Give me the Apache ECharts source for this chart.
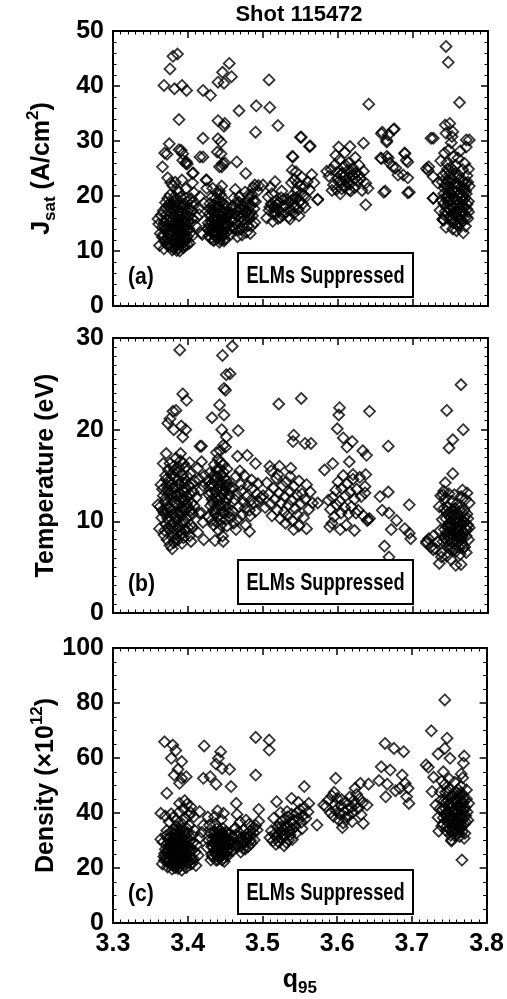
<!DOCTYPE html>
<html>
<head>
<meta charset="utf-8">
<script src="https://cdn.jsdelivr.net/npm/echarts@6/dist/echarts.min.js"></script>
<style>html,body{margin:0;padding:0;background:#fff}#main{width:507px;height:999px}</style>
</head>
<body>
<div id="main"></div>
<script>
// Shot 115472 : probe Jsat, Te and ne against q95
var shotTitle = 'Shot 115472';
var panelTags = ['(a)', '(b)', '(c)'];
var boxLabel = 'ELMs Suppressed';
var yMax = [50, 30, 100];
var yStep = [10, 10, 20];
var yMinorSplit = [5, 10, 4];

// (a) Jsat (A/cm2)
var jsatPoints = [
  [3.386,45.8],[3.380,45.4],[3.376,43.1],[3.368,40.1],[3.382,39.5],[3.392,40.1],[3.398,39.2],[3.388,33.9],
  [3.375,29.5],[3.372,27.6],[3.366,25.3],[3.391,28.3],[3.393,27.7],[3.398,26.2],[3.397,25.9],[3.416,27.1],
  [3.406,24.1],[3.420,39.2],[3.430,38.3],[3.420,30.5],[3.440,40.7],[3.446,42.5],[3.455,44.1],[3.458,41.7],
  [3.448,40.5],[3.440,33.7],[3.448,32.7],[3.449,33.2],[3.440,30.4],[3.444,29.8],[3.444,27.7],[3.446,25.9],
  [3.442,25.3],[3.465,26.2],[3.468,35.5],[3.477,24.1],[3.491,36.4],[3.490,31.6],[3.508,41.1],[3.509,36.1],
  [3.520,32.8],[3.516,22.6],[3.500,22.0],[3.550,30.7],[3.562,29.0],[3.539,27.2],[3.539,24.7],[3.573,19.4],
  [3.641,36.7],[3.601,28.9],[3.616,29.0],[3.634,29.6],[3.637,18.4],[3.658,31.3],[3.674,32.1],[3.665,30.1],
  [3.665,27.2],[3.658,26.8],[3.663,20.9],[3.689,27.7],[3.691,26.5],[3.693,20.6],[3.724,30.5],[3.718,25.0],
  [3.744,47.2],[3.747,44.3],[3.762,37.0],[3.727,19.6],[3.740,15.7],
  [3.373,23.3],[3.377,22.4],[3.369,27.8],[3.388,28.4],[3.393,26.5],[3.399,25.8],[3.407,24.2],[3.420,27.1],
  [3.425,22.9],[3.439,28.0],[3.449,26.0],[3.445,25.3],[3.489,22.0],
  [3.368,10.4],[3.372,11.2],[3.366,12.5],[3.370,13.8],[3.374,14.6],[3.368,15.3],[3.377,10.9],[3.380,12.0],
  [3.383,13.1],[3.376,14.0],[3.379,15.5],[3.382,16.4],[3.385,10.1],[3.388,11.5],[3.391,12.7],[3.386,13.9],
  [3.389,14.8],[3.392,15.9],[3.387,17.1],[3.384,18.3],[3.394,10.6],[3.397,11.9],[3.395,13.4],[3.398,14.3],
  [3.393,16.8],[3.396,17.6],[3.399,18.9],[3.390,19.8],[3.381,19.2],[3.375,17.9],[3.371,16.6],[3.373,12.3],
  [3.378,11.6],[3.382,14.4],[3.386,15.2],[3.390,13.0],[3.394,12.2],[3.400,13.7],[3.403,15.0],[3.401,16.3],
  [3.405,17.4],[3.402,11.4],[3.406,12.8],[3.404,19.5],[3.408,20.6],[3.397,21.3],[3.388,20.7],[3.380,21.8],
  [3.376,20.2],[3.370,18.8],[3.367,17.3],[3.383,22.5],[3.392,22.9],[3.379,13.5],[3.384,12.6],[3.388,16.2],
  [3.391,17.9],[3.396,15.4],[3.385,14.1],[3.377,16.0],[3.374,13.1],[3.369,11.7],[3.381,10.5],[3.389,10.0],
  [3.395,11.0],[3.399,12.6],[3.410,14.6],[3.412,16.1],[3.407,18.2],[3.373,19.6],[3.366,14.3],[3.378,18.5],
  [3.393,14.0],[3.387,12.3],[3.383,17.6],[3.398,16.7],[3.401,14.1],[3.375,15.1],[3.386,19.0],[3.390,11.1],
  [3.361,14.9],[3.363,13.2],[3.362,11.0],[3.360,15.8],[3.364,16.5],[3.406,18.8],[3.416,19.9],[3.421,18.7],
  [3.415,16.6],[3.418,13.3],[3.419,13.0],[3.406,22.4],[3.424,22.9],[3.425,21.4],[3.415,17.8],
  [3.371,12.0],[3.374,11.0],[3.377,13.2],[3.380,14.9],[3.383,11.3],[3.386,12.1],[3.389,13.5],[3.392,14.3],
  [3.395,16.2],[3.398,12.1],[3.378,16.9],[3.381,17.8],[3.385,16.6],[3.389,18.4],[3.393,18.6],[3.397,19.6],
  [3.401,17.6],[3.376,12.8],[3.372,15.6],[3.369,14.4],[3.384,14.7],[3.387,15.8],[3.390,15.0],[3.394,13.0],
  [3.379,10.2],[3.383,10.8],[3.387,10.6],[3.392,11.8],[3.396,12.9],[3.400,15.4],[3.403,13.3],[3.406,15.9],
  [3.382,19.9],[3.386,21.1],[3.375,18.6],[3.371,17.9],[3.367,13.0],[3.391,16.9],[3.399,11.2],[3.395,18.2],
  [3.428,12.8],[3.431,13.9],[3.427,15.1],[3.430,16.3],[3.433,17.5],[3.429,18.6],[3.432,19.8],[3.435,12.0],
  [3.438,13.2],[3.436,14.5],[3.439,15.7],[3.434,16.9],[3.437,18.1],[3.440,19.2],[3.442,11.6],[3.445,12.7],
  [3.443,13.8],[3.441,15.0],[3.446,16.2],[3.444,17.4],[3.447,18.5],[3.443,20.3],[3.449,12.2],[3.452,13.4],
  [3.450,14.6],[3.448,15.8],[3.453,17.0],[3.451,18.2],[3.455,14.1],[3.454,16.4],[3.438,20.6],[3.433,21.4],
  [3.445,21.8],[3.426,14.0],[3.429,16.8],[3.434,11.9],[3.440,12.4],[3.436,17.1],[3.442,14.3],[3.447,13.0],
  [3.439,16.0],[3.431,15.4],[3.444,19.0],[3.450,17.6],[3.437,12.6],[3.441,18.0],[3.448,11.8],[3.435,15.9],
  [3.446,14.7],[3.432,13.3],
  [3.430,12.3],[3.433,14.6],[3.436,13.5],[3.439,14.1],[3.441,16.6],[3.444,15.6],[3.447,17.1],[3.450,15.2],
  [3.437,16.4],[3.434,18.4],[3.430,17.6],[3.443,12.1],[3.446,13.5],[3.449,14.0],[3.452,16.2],[3.440,17.8],
  [3.437,19.6],[3.445,19.8],[3.441,13.1],[3.435,12.9],[3.448,16.9],[3.452,14.9],[3.428,14.6],[3.442,20.9],
  [3.433,15.7],
  [3.457,13.0],[3.460,14.2],[3.458,15.5],[3.462,16.8],[3.459,17.9],[3.464,18.8],[3.461,19.6],[3.466,12.6],
  [3.468,13.8],[3.465,15.0],[3.470,16.1],[3.467,17.3],[3.471,18.4],[3.469,19.9],[3.473,14.5],[3.475,15.7],
  [3.472,12.9],[3.477,16.9],[3.474,18.0],[3.478,13.4],[3.480,14.6],[3.482,15.8],[3.479,17.2],[3.484,18.3],
  [3.481,19.5],[3.486,16.4],[3.488,17.7],[3.485,20.3],[3.490,19.0],[3.492,20.8],[3.487,21.5],[3.494,21.9],
  [3.463,21.2],[3.476,20.7],[3.483,13.2],[3.489,15.2],[3.471,14.0],[3.460,18.2],
  [3.463,14.0],[3.466,16.4],[3.469,17.7],[3.472,15.3],[3.475,17.4],[3.478,18.8],[3.481,16.5],[3.484,17.0],
  [3.487,19.1],[3.462,15.9],[3.468,18.9],[3.474,16.6],[3.480,20.1],[3.458,16.9],[3.486,14.7],
  [3.505,16.0],[3.508,17.4],[3.511,18.6],[3.507,19.8],[3.513,15.4],[3.516,16.7],[3.514,18.0],[3.518,19.2],
  [3.512,20.4],[3.520,15.9],[3.522,17.3],[3.519,18.5],[3.524,19.7],[3.526,16.5],[3.528,18.1],[3.525,20.9],
  [3.530,17.0],[3.532,19.4],[3.510,21.6],[3.517,17.9],
  [3.515,17.3],[3.521,18.8],[3.527,19.3],[3.509,18.0],[3.523,16.1],[3.541,18.0],[3.545,19.7],[3.550,21.8],
  [3.538,19.2],[3.554,20.0],
  [3.534,16.2],[3.537,17.5],[3.535,18.8],[3.539,20.1],[3.541,16.8],[3.543,18.2],[3.540,19.4],[3.545,21.0],
  [3.547,17.6],[3.549,19.0],[3.546,22.3],[3.551,20.4],[3.553,18.6],[3.555,21.7],[3.552,23.4],[3.557,19.8],
  [3.559,22.6],[3.562,21.1],[3.565,23.9],[3.568,22.4],[3.538,22.4],[3.544,24.4],[3.536,15.8],[3.548,16.4],
  [3.556,17.9],[3.542,23.0],
  [3.588,23.6],[3.591,24.8],[3.594,22.0],[3.596,25.7],[3.598,21.2],[3.600,23.3],[3.602,26.6],[3.603,20.4],
  [3.605,22.5],[3.606,24.1],[3.608,25.3],[3.610,21.7],[3.611,23.0],[3.613,24.6],[3.614,26.0],[3.616,22.2],
  [3.617,20.9],[3.619,23.8],[3.620,25.1],[3.622,21.5],[3.624,24.2],[3.626,22.7],[3.628,25.6],[3.630,23.1],
  [3.632,21.0],[3.634,24.5],[3.637,22.3],[3.640,21.4],[3.597,27.4],[3.609,27.9],[3.585,24.5],[3.592,21.0],
  [3.623,27.0],[3.604,23.9],[3.615,23.4],
  [3.601,22.6],[3.607,23.4],[3.612,22.4],[3.618,24.4],[3.623,23.2],[3.599,24.3],[3.610,25.6],[3.605,21.3],
  [3.615,21.1],[3.628,23.8],
  [3.659,31.6],[3.667,31.1],[3.675,32.2],[3.665,29.8],[3.657,26.9],[3.667,26.9],[3.669,26.0],[3.677,25.1],
  [3.689,27.8],[3.693,26.2],[3.687,23.8],[3.693,23.3],[3.695,20.7],[3.661,20.7],[3.680,23.8],[3.673,25.3],
  [3.551,30.7],[3.563,29.1],[3.540,27.1],[3.573,19.3],
  [3.727,30.5],[3.743,32.9],[3.749,33.2],[3.753,31.7],[3.771,30.2],[3.721,25.3],[3.720,24.7],[3.727,23.5],
  [3.733,22.4],[3.727,19.6],[3.741,15.6],[3.753,14.0],[3.767,13.3],
  [3.740,15.8],[3.743,17.2],[3.741,18.6],[3.745,20.0],[3.742,21.4],[3.746,22.8],[3.744,24.1],[3.748,16.1],
  [3.750,17.5],[3.747,18.9],[3.751,20.3],[3.749,21.7],[3.752,23.1],[3.750,25.2],[3.754,15.2],[3.756,16.6],
  [3.753,18.0],[3.757,19.4],[3.755,20.8],[3.758,22.2],[3.756,23.6],[3.760,14.6],[3.762,16.0],[3.759,17.4],
  [3.763,18.8],[3.761,20.2],[3.764,21.6],[3.762,23.0],[3.766,15.4],[3.768,16.8],[3.765,18.2],[3.769,19.6],
  [3.767,21.0],[3.770,22.4],[3.772,17.6],[3.774,19.0],[3.771,20.4],[3.773,15.9],[3.775,21.8],[3.738,19.3],
  [3.739,22.6],[3.737,26.4],[3.742,27.8],[3.745,26.0],[3.748,28.4],[3.751,29.7],[3.754,27.1],[3.757,25.6],
  [3.760,26.9],[3.763,28.2],[3.766,24.8],[3.769,25.9],[3.772,23.7],[3.774,24.9],[3.736,17.4],[3.744,14.3],
  [3.758,13.7],[3.770,14.5],[3.747,19.9],[3.753,21.2],[3.759,19.0],[3.765,17.0],[3.755,17.8],[3.761,22.0],
  [3.749,24.0],[3.767,20.1],[3.763,14.9],[3.740,23.8],[3.771,28.9],[3.775,30.2],[3.752,30.8],[3.744,31.4],
  [3.742,16.5],[3.745,17.9],[3.748,19.3],[3.751,18.1],[3.754,19.8],[3.757,17.1],[3.760,18.4],[3.763,20.5],
  [3.766,19.1],[3.769,17.9],[3.772,18.5],[3.744,19.6],[3.747,21.0],[3.750,22.4],[3.753,16.7],[3.756,15.5],
  [3.759,16.2],[3.762,17.7],[3.765,19.9],[3.768,21.5],[3.771,16.2],[3.774,17.1],[3.743,22.0],[3.749,20.7],
  [3.755,22.3],[3.761,23.8],[3.767,22.6],[3.752,15.8],[3.758,14.9],[3.764,15.7],[3.746,24.9],[3.754,24.6],
  [3.770,20.9],[3.773,22.5],[3.741,20.4]
];

// (b) Te (eV)
var tempPoints = [
  [3.389,28.7],[3.446,28.1],[3.459,29.1],[3.451,26.0],[3.456,26.1],[3.448,24.5],[3.450,24.3],[3.393,23.9],
  [3.398,23.2],[3.384,22.1],[3.380,22.0],[3.376,21.2],[3.373,20.7],[3.381,20.0],[3.391,20.4],[3.397,20.0],
  [3.393,19.2],[3.390,17.4],[3.371,17.4],[3.367,16.3],[3.418,18.2],[3.432,21.3],[3.442,22.7],[3.448,21.6],
  [3.445,20.0],[3.451,19.2],[3.447,18.3],[3.450,18.1],[3.467,19.9],[3.466,17.1],[3.479,17.2],[3.490,16.3],
  [3.521,22.8],[3.551,23.4],[3.541,19.4],[3.540,18.7],[3.556,18.5],[3.564,18.5],[3.602,22.4],[3.601,21.6],
  [3.642,22.0],[3.599,20.1],[3.607,19.1],[3.612,18.1],[3.619,18.7],[3.615,16.5],[3.633,17.7],[3.638,17.2],
  [3.667,18.2],[3.656,12.7],[3.667,13.2],[3.659,11.2],[3.668,10.9],[3.678,10.1],[3.671,9.1],[3.662,7.3],
  [3.668,6.1],[3.695,11.8],[3.689,9.2],[3.695,8.7],[3.697,8.1],[3.620,15.1],[3.637,15.1],[3.636,13.8],
  [3.640,10.2],[3.622,9.0],[3.603,9.1],[3.589,9.4],[3.587,12.3],[3.582,15.6],[3.593,16.3],[3.573,12.0],
  [3.558,9.2],[3.541,9.1],[3.522,16.0],[3.509,16.0],[3.536,14.9],[3.482,8.9],[3.464,9.1],[3.421,8.0],
  [3.418,10.9],[3.415,10.9],[3.420,9.9],[3.416,18.2],
  [3.764,24.9],[3.745,22.1],[3.767,20.0],[3.753,18.9],[3.748,18.0],[3.753,15.2],[3.743,14.2],[3.740,12.9],
  [3.772,13.1],[3.718,7.8],[3.727,6.9],[3.735,5.4],[3.764,5.3],[3.738,6.1],
  [3.362,9.2],[3.365,10.4],[3.363,11.6],[3.367,12.8],[3.364,14.0],[3.368,8.5],[3.370,9.7],[3.372,10.9],
  [3.369,12.1],[3.373,13.3],[3.371,14.6],[3.374,15.6],[3.376,7.4],[3.378,8.8],[3.375,10.0],[3.379,11.2],
  [3.377,12.4],[3.380,13.6],[3.382,14.8],[3.381,16.0],[3.384,8.1],[3.386,9.3],[3.383,10.5],[3.387,11.7],
  [3.385,12.9],[3.388,14.1],[3.386,15.4],[3.390,16.6],[3.391,8.6],[3.393,9.8],[3.389,11.0],[3.394,12.2],
  [3.392,13.4],[3.395,14.6],[3.397,15.9],[3.396,9.1],[3.398,10.3],[3.400,11.5],[3.399,12.7],[3.401,13.9],
  [3.403,15.2],[3.402,8.4],[3.404,9.6],[3.406,10.8],[3.405,12.0],[3.407,13.2],[3.409,14.4],[3.366,13.5],
  [3.378,15.1],[3.383,11.9],[3.389,13.0],[3.374,11.4],[3.391,10.6],[3.380,9.9],[3.387,8.0],[3.395,11.3],
  [3.372,8.0],[3.398,13.6],[3.384,16.9],[3.381,7.7],[3.377,14.0],[3.386,10.2],[3.393,12.6],[3.370,12.5],
  [3.400,9.3],[3.408,11.7],[3.411,12.6],[3.388,9.5],[3.375,13.0],[3.382,12.1],[3.396,14.2],[3.402,16.4],
  [3.360,11.8],[3.379,7.0],[3.392,7.6],[3.404,7.8],[3.413,8.8],[3.415,14.6],[3.417,13.4],[3.413,15.8],
  [3.420,13.9],[3.422,15.0],[3.418,16.5],
  [3.368,10.9],[3.371,11.3],[3.374,9.2],[3.377,9.5],[3.380,10.7],[3.383,9.1],[3.386,11.0],[3.389,12.2],
  [3.392,11.4],[3.395,10.1],[3.398,11.9],[3.401,10.6],[3.404,11.2],[3.372,13.9],[3.375,14.5],[3.378,12.9],
  [3.381,13.1],[3.384,13.7],[3.387,14.5],[3.390,14.0],[3.393,15.1],[3.396,13.2],[3.399,14.9],[3.402,13.0],
  [3.405,14.0],[3.366,11.2],[3.369,9.0],[3.385,8.6],[3.390,9.0],[3.394,8.2],[3.398,8.9],[3.382,15.6],
  [3.388,15.9],[3.394,16.3],[3.376,16.3],[3.370,15.0],[3.406,9.3],[3.379,8.3],[3.373,10.3],[3.397,12.4],
  [3.427,10.5],[3.430,11.7],[3.428,12.9],[3.432,14.1],[3.429,15.3],[3.434,9.6],[3.436,10.8],[3.433,12.0],
  [3.437,13.2],[3.435,14.4],[3.438,15.6],[3.440,16.8],[3.441,9.0],[3.443,10.2],[3.439,11.4],[3.444,12.6],
  [3.442,13.8],[3.445,15.0],[3.447,16.2],[3.446,8.4],[3.448,10.9],[3.450,12.1],[3.449,13.3],[3.451,14.5],
  [3.453,11.5],[3.452,15.7],[3.455,12.8],[3.454,14.0],[3.457,10.4],[3.456,13.6],[3.431,13.1],[3.437,11.2],
  [3.444,14.2],[3.440,12.3],[3.448,13.9],[3.434,15.0],[3.446,11.0],[3.436,7.9],[3.447,7.8],[3.426,14.4],
  [3.452,9.5],[3.438,17.5],[3.443,17.7],
  [3.431,10.1],[3.434,11.2],[3.437,12.6],[3.440,13.6],[3.443,11.7],[3.446,12.9],[3.449,11.6],[3.452,12.5],
  [3.433,13.8],[3.436,14.9],[3.439,14.8],[3.442,15.7],[3.445,13.4],[3.448,14.7],[3.451,13.9],[3.441,10.6],
  [3.444,9.6],[3.438,9.9],[3.454,11.0],[3.429,13.9],[3.435,16.2],[3.447,15.4],[3.450,10.2],[3.432,12.4],
  [3.443,16.4],
  [3.459,11.1],[3.462,12.4],[3.460,13.7],[3.464,14.9],[3.466,10.2],[3.468,11.6],[3.465,12.9],[3.470,14.0],
  [3.472,10.7],[3.474,12.1],[3.471,13.3],[3.476,11.4],[3.478,12.7],[3.480,13.9],[3.477,9.6],[3.482,11.2],
  [3.484,12.3],[3.486,13.6],[3.483,10.6],[3.488,12.0],[3.490,11.1],[3.492,13.0],[3.494,12.2],[3.469,15.5],
  [3.475,15.0],[3.461,9.8],[3.485,14.5],[3.493,14.1],[3.497,12.6],
  [3.500,12.8],[3.503,11.5],[3.505,14.2],[3.508,13.0],[3.510,11.9],[3.512,10.6],[3.514,13.6],[3.516,12.4],
  [3.518,14.7],[3.519,11.2],[3.521,13.1],[3.523,10.3],[3.524,12.0],[3.526,13.9],[3.528,11.0],[3.529,12.7],
  [3.531,14.3],[3.533,10.6],[3.534,11.8],[3.536,13.2],[3.538,12.3],[3.539,10.1],[3.541,13.8],[3.543,11.4],
  [3.545,12.9],[3.546,10.7],[3.548,14.4],[3.550,11.9],[3.552,13.0],[3.554,10.4],[3.556,12.4],[3.558,14.0],
  [3.561,11.3],[3.563,13.2],[3.530,9.8],[3.520,15.1],[3.537,15.8],[3.511,15.5],[3.548,9.5],[3.566,12.0],
  [3.590,11.3],[3.593,12.6],[3.595,10.5],[3.597,13.4],[3.598,11.8],[3.600,14.3],[3.602,12.2],[3.604,10.9],
  [3.605,13.6],[3.607,15.0],[3.609,11.5],[3.610,12.8],[3.612,14.1],[3.614,10.8],[3.616,13.2],[3.618,11.6],
  [3.620,14.6],[3.622,12.4],[3.625,13.5],[3.627,11.2],[3.629,14.8],[3.631,12.7],[3.634,10.6],[3.636,13.1],
  [3.639,10.1],[3.642,10.3],[3.592,9.8],[3.611,9.6],[3.624,10.9],
  [3.718,7.6],[3.721,8.1],[3.724,7.2],[3.727,8.4],[3.730,7.0],[3.733,7.8],[3.736,9.0],[3.739,10.2],
  [3.741,11.4],[3.743,12.5],[3.738,6.6],[3.740,7.8],[3.742,9.1],[3.744,10.3],[3.746,11.6],[3.745,6.2],
  [3.747,7.4],[3.749,8.6],[3.748,9.8],[3.750,11.0],[3.752,12.2],[3.751,5.8],[3.753,7.1],[3.755,8.3],
  [3.754,9.5],[3.756,10.7],[3.758,11.9],[3.757,6.7],[3.759,7.9],[3.761,9.1],[3.760,10.3],[3.762,11.5],
  [3.764,12.7],[3.763,6.4],[3.765,7.6],[3.767,8.8],[3.766,10.0],[3.768,11.2],[3.770,12.4],[3.769,7.2],
  [3.771,8.4],[3.773,9.6],[3.772,10.8],[3.774,8.0],[3.775,9.3],[3.744,8.7],[3.750,9.4],[3.756,8.9],
  [3.762,8.5],[3.746,10.8],[3.752,7.7],[3.758,10.0],[3.764,9.7],[3.741,13.3],[3.748,13.0],[3.755,12.9],
  [3.735,11.6],[3.737,12.8],[3.766,13.4],[3.775,12.0],[3.757,5.2],[3.771,6.6],
  [3.745,7.9],[3.748,8.1],[3.751,9.0],[3.754,10.1],[3.757,9.3],[3.760,8.2],[3.763,9.4],[3.766,8.3],
  [3.769,9.9],[3.772,9.1],[3.747,9.3],[3.750,10.4],[3.753,11.3],[3.756,11.4],[3.759,10.9],[3.762,10.0],
  [3.765,11.0],[3.768,10.4],[3.744,11.1],[3.742,8.2],[3.749,7.0],[3.755,6.9],[3.761,7.2],[3.767,7.1],
  [3.773,10.3],[3.752,10.7],[3.758,8.6],[3.764,8.1],[3.770,9.2],[3.746,9.4]
];

// (c) density (x10^12)
var densPoints = [
  [3.744,81.1],[3.726,69.9],[3.747,67.2],[3.735,61.5],[3.744,63.5],[3.751,59.9],[3.719,57.5],[3.722,56.6],
  [3.770,60.7],[3.769,58.1],[3.766,54.2],[3.729,53.0],[3.727,47.8],[3.732,42.9],[3.753,30.2],[3.767,22.9],
  [3.771,32.6],
  [3.664,65.3],[3.676,63.5],[3.689,62.3],[3.659,56.8],[3.671,55.6],[3.656,51.8],[3.667,50.5],[3.665,45.9],
  [3.678,48.1],[3.687,53.8],[3.691,50.8],[3.695,49.0],[3.696,43.5],[3.693,45.9],[3.684,49.0],[3.598,52.6],
  [3.631,50.8],[3.642,50.5],[3.624,49.0],[3.640,42.9],[3.635,36.2],[3.582,42.9],[3.573,35.6],[3.556,49.6],
  [3.562,43.5],[3.539,45.3],[3.519,44.1],[3.524,40.1],[3.509,66.5],[3.509,62.9],[3.491,67.5],[3.491,53.8],
  [3.495,41.3],[3.540,30.4],[3.422,64.4],[3.421,52.6],[3.430,53.2],[3.444,62.3],[3.441,59.9],[3.438,57.8],
  [3.438,50.5],[3.446,56.2],[3.456,55.9],[3.458,49.6],[3.465,43.5],[3.369,65.9],[3.380,64.7],[3.384,62.7],
  [3.378,59.9],[3.392,58.7],[3.387,55.9],[3.382,53.8],[3.392,52.6],[3.389,50.8],[3.398,53.2],[3.372,47.2],
  [3.364,39.9],[3.416,40.5],[3.404,40.1],[3.396,44.5],[3.389,43.5],[3.406,21.7],
  [3.366,21.5],[3.368,24.2],[3.370,26.8],[3.367,29.4],[3.371,31.7],[3.369,22.8],[3.373,20.4],[3.375,23.1],
  [3.372,25.6],[3.376,28.2],[3.374,30.5],[3.377,33.0],[3.379,19.6],[3.381,22.3],[3.378,24.9],[3.382,27.5],
  [3.380,30.0],[3.383,32.4],[3.385,35.1],[3.386,20.8],[3.388,23.6],[3.384,26.1],[3.389,28.8],[3.387,31.2],
  [3.390,33.9],[3.392,19.2],[3.391,21.9],[3.393,24.5],[3.395,27.0],[3.394,29.7],[3.396,32.3],[3.398,20.1],
  [3.397,22.7],[3.399,25.3],[3.401,28.0],[3.400,30.6],[3.402,35.5],[3.404,21.4],[3.403,24.0],[3.405,26.7],
  [3.407,29.2],[3.406,31.9],[3.408,23.3],[3.410,25.9],[3.412,28.4],[3.375,36.8],[3.381,38.5],[3.388,40.2],
  [3.394,41.6],[3.399,43.2],[3.396,38.0],[3.385,37.4],[3.378,39.7],[3.392,36.2],[3.402,39.1],[3.370,38.9],
  [3.380,25.5],[3.386,27.8],[3.391,26.3],[3.383,21.0],[3.389,22.4],[3.377,27.0],[3.393,30.8],[3.388,29.3],
  [3.382,29.9],[3.397,27.9],[3.374,22.0],[3.395,23.2],[3.400,21.9],[3.369,25.3],[3.403,27.3],[3.387,19.8],
  [3.384,33.5],[3.372,33.6],[3.398,34.6],[3.409,33.7],[3.364,30.5],[3.411,20.9],[3.414,24.6],[3.416,31.0],
  [3.419,33.0],[3.421,35.5],[3.408,38.6],[3.404,42.3],
  [3.372,22.7],[3.375,25.2],[3.378,27.8],[3.381,24.1],[3.384,23.5],[3.387,25.0],[3.390,27.2],[3.393,22.6],
  [3.396,25.9],[3.399,23.5],[3.402,26.1],[3.373,28.9],[3.376,31.3],[3.379,29.1],[3.382,31.1],[3.385,29.3],
  [3.388,32.7],[3.391,31.6],[3.394,28.4],[3.397,30.0],[3.400,32.8],[3.403,29.8],[3.370,23.7],[3.383,20.1],
  [3.389,20.6],[3.395,21.0],[3.380,21.0],[3.386,22.1],[3.392,23.7],[3.398,24.4],[3.377,21.4],[3.387,26.4],
  [3.391,28.9],[3.379,26.5],[3.405,23.2],[3.374,26.6],[3.385,30.8],[3.396,26.6],[3.381,33.9],[3.393,34.3],
  [3.426,27.4],[3.428,30.1],[3.430,32.8],[3.429,35.6],[3.432,25.0],[3.434,27.7],[3.433,30.4],[3.435,33.1],
  [3.437,36.0],[3.436,38.6],[3.438,22.8],[3.440,25.5],[3.439,28.2],[3.441,30.9],[3.443,33.6],[3.442,23.6],
  [3.444,26.3],[3.446,29.0],[3.445,31.7],[3.447,34.4],[3.449,22.4],[3.448,25.1],[3.450,27.8],[3.452,30.5],
  [3.451,33.2],[3.453,24.3],[3.455,27.0],[3.454,29.6],[3.456,32.3],[3.458,26.1],[3.457,28.8],[3.460,31.4],
  [3.462,34.1],[3.431,22.9],[3.445,37.6],[3.440,40.8],[3.448,39.9],[3.436,31.6],[3.444,24.1],[3.439,34.3],
  [3.452,26.4],[3.434,29.2],[3.447,32.1],[3.442,28.5],[3.427,38.5],
  [3.433,24.2],[3.436,26.0],[3.439,24.6],[3.442,26.8],[3.445,25.7],[3.448,23.6],[3.451,25.2],[3.454,26.3],
  [3.435,28.9],[3.438,30.2],[3.441,27.6],[3.444,30.0],[3.447,27.4],[3.450,29.4],[3.453,28.1],[3.437,33.0],
  [3.440,31.9],[3.443,32.2],[3.446,33.0],[3.449,31.4],[3.432,27.8],[3.456,29.8],[3.446,22.9],[3.440,23.0],
  [3.452,32.9],
  [3.461,26.5],[3.463,29.2],[3.465,31.8],[3.464,34.5],[3.467,27.6],[3.469,30.3],[3.468,33.0],[3.471,25.8],
  [3.473,28.4],[3.472,31.1],[3.475,33.8],[3.477,26.9],[3.476,29.5],[3.479,32.2],[3.481,27.8],[3.480,30.6],
  [3.483,33.4],[3.485,29.0],[3.484,31.7],[3.487,34.3],[3.489,30.2],[3.488,32.9],[3.491,35.5],[3.493,33.8],
  [3.495,37.0],[3.470,36.7],[3.478,37.4],[3.466,39.5],[3.482,35.9],[3.474,27.1],
  [3.470,29.0],[3.478,31.0],[3.484,30.1],[3.466,28.3],[3.521,32.5],[3.527,31.8],[3.533,34.6],[3.537,32.0],
  [3.541,36.1],[3.525,35.0],
  [3.510,31.0],[3.512,33.5],[3.514,29.8],[3.516,32.3],[3.518,28.6],[3.520,34.8],[3.519,31.1],[3.522,29.4],
  [3.524,33.0],[3.523,36.2],[3.526,30.7],[3.528,34.0],[3.527,37.3],[3.530,32.1],[3.532,29.3],[3.531,35.5],
  [3.534,38.6],[3.536,33.4],[3.535,30.2],[3.538,36.7],[3.540,34.0],[3.539,39.5],[3.542,37.4],[3.544,35.1],
  [3.546,40.0],[3.548,37.9],[3.550,41.2],[3.552,36.6],[3.554,39.0],[3.556,42.0],[3.558,38.0],[3.561,40.4],
  [3.515,38.1],[3.529,28.1],[3.533,40.5],[3.545,32.6],[3.548,43.9],[3.553,34.3],
  [3.585,42.3],[3.588,44.6],[3.591,40.1],[3.593,46.2],[3.595,38.8],[3.597,43.0],[3.598,41.0],[3.600,45.3],
  [3.602,37.5],[3.603,39.7],[3.605,42.6],[3.606,44.9],[3.608,36.4],[3.609,40.4],[3.611,38.3],[3.612,43.8],
  [3.614,41.4],[3.616,39.0],[3.617,45.8],[3.619,42.1],[3.621,40.3],[3.622,44.5],[3.624,43.0],[3.626,46.8],
  [3.628,41.6],[3.630,45.2],[3.632,39.4],[3.607,34.7],[3.596,47.5],[3.620,36.9],[3.634,43.7],
  [3.735,38.4],[3.737,41.5],[3.739,44.6],[3.738,47.6],[3.740,35.2],[3.742,38.3],[3.741,41.3],[3.743,44.4],
  [3.745,47.5],[3.744,50.4],[3.746,33.5],[3.748,36.6],[3.747,39.7],[3.749,42.7],[3.751,45.8],[3.750,48.8],
  [3.752,31.9],[3.754,35.0],[3.753,38.0],[3.755,41.1],[3.757,44.2],[3.756,47.2],[3.758,33.3],[3.760,36.4],
  [3.759,39.4],[3.761,42.5],[3.763,45.6],[3.762,48.5],[3.764,31.5],[3.766,34.6],[3.765,37.6],[3.767,40.7],
  [3.769,43.8],[3.768,46.8],[3.770,35.9],[3.772,39.0],[3.771,42.0],[3.773,45.1],[3.775,37.4],[3.774,40.4],
  [3.776,43.5],[3.749,37.9],[3.755,36.1],[3.761,40.8],[3.746,43.9],[3.752,41.9],[3.758,45.1],[3.764,38.9],
  [3.744,39.6],[3.757,51.2],[3.750,52.4],[3.766,49.7],[3.740,51.6],[3.736,33.4],[3.770,30.8],[3.762,33.1],
  [3.753,29.8],[3.768,52.8],[3.742,55.0],[3.773,48.4],
  [3.747,35.2],[3.750,34.1],[3.753,33.5],[3.756,34.4],[3.759,35.5],[3.762,34.6],[3.765,35.9],[3.768,37.8],
  [3.746,38.9],[3.749,40.2],[3.752,39.1],[3.755,38.6],[3.758,37.2],[3.761,38.0],[3.764,41.9],[3.767,39.5],
  [3.770,41.1],[3.748,44.6],[3.751,43.3],[3.754,42.4],[3.757,40.5],[3.760,43.7],[3.763,42.9],[3.766,44.0],
  [3.769,45.2],[3.745,41.6],[3.754,46.0],[3.760,47.4],[3.748,47.9],[3.765,47.2],[3.772,36.7],[3.742,35.9],
  [3.757,31.8],[3.767,33.1],[3.751,37.2]
];

var FONT = '"Liberation Sans", Arial, sans-serif';
var gridTops = [31, 338, 648];
var nameGaps = [54, 50, 50];
var allPoints = [jsatPoints, tempPoints, densPoints];
var yNames = [
  'J{sub|sat} (A/cm{sup|2})',
  'Temperature (eV)',
  'Density (\u00d710{sup|12})'
];

var nameStyle = {
  fontSize: 25, fontWeight: 'bold', color: '#000', fontFamily: FONT, lineHeight: 34,
  rich: {
    sub: {fontSize: 17, fontWeight: 'bold', fontFamily: FONT, lineHeight: 14, verticalAlign: 'bottom'},
    sup: {fontSize: 17, fontWeight: 'bold', fontFamily: FONT, lineHeight: 14, verticalAlign: 'top'}
  }
};
var lineStyle = {color: '#000', width: 2};

var grids = [], xAxes = [], yAxes = [], series = [], graphics = [];
for (var i = 0; i < 3; i++) {
  grids.push({left: 113, width: 375, top: gridTops[i], height: 275});
  var xBase = {
    gridIndex: i, type: 'value', min: 3.3, max: 3.8, interval: 0.1,
    axisLine: {show: true, onZero: false, lineStyle: lineStyle},
    axisTick: {show: true, inside: true, length: 7, lineStyle: {color: '#000', width: 1.5}},
    minorTick: {show: true, splitNumber: 10, length: 3.5, lineStyle: {color: '#000', width: 1}},
    splitLine: {show: false}
  };
  xAxes.push(Object.assign({}, xBase, {
    position: 'bottom',
    axisLabel: {show: i === 2, fontSize: 25, fontWeight: 'bold', color: '#000', fontFamily: FONT, margin: 9,
      formatter: function (v) { return v.toFixed(1); }},
    name: i === 2 ? 'q{sub|95}' : '', nameLocation: 'middle', nameGap: 40, nameMoveOverlap: false,
    nameTextStyle: nameStyle
  }));
  xAxes.push(Object.assign({}, xBase, {position: 'top', axisLabel: {show: false}}));
  var yBase = {
    gridIndex: i, type: 'value', min: 0, max: yMax[i], interval: yStep[i],
    axisLine: {show: true, onZero: false, lineStyle: lineStyle},
    axisTick: {show: true, inside: true, length: 7, lineStyle: {color: '#000', width: 1.5}},
    minorTick: {show: true, splitNumber: yMinorSplit[i], length: 3.5, lineStyle: {color: '#000', width: 1}},
    splitLine: {show: false}
  };
  yAxes.push(Object.assign({}, yBase, {
    position: 'left',
    axisLabel: {fontSize: 25, fontWeight: 'bold', color: '#000', fontFamily: FONT, margin: 9},
    name: yNames[i], nameLocation: 'middle', nameRotate: 90, nameGap: nameGaps[i], nameMoveOverlap: false,
    nameTextStyle: nameStyle
  }));
  yAxes.push(Object.assign({}, yBase, {position: 'right', axisLabel: {show: false}}));

  series.push({
    type: 'scatter', xAxisIndex: i * 2, yAxisIndex: i * 2,
    symbol: 'diamond', symbolSize: 11,
    itemStyle: {color: 'rgba(0,0,0,0)', borderColor: '#000', borderWidth: 1.8},
    emphasis: {disabled: true},
    data: allPoints[i]
  });

  var t = gridTops[i];
  graphics.push({
    type: 'rect', shape: {x: 238, y: t + 222, width: 175, height: 44},
    style: {fill: '#fff', stroke: '#000', lineWidth: 2}, z: 100
  });
  graphics.push({
    type: 'text', x: 325.5, y: t + 245, z: 101, scaleX: 0.76,
    style: {text: boxLabel, fill: '#000', font: 'bold 24px ' + FONT,
      align: 'center', verticalAlign: 'middle'}
  });
  graphics.push({
    type: 'text', x: 128, y: t + 247, z: 101, scaleX: 0.92,
    style: {text: panelTags[i], fill: '#000', font: 'bold 23px ' + FONT,
      align: 'left', verticalAlign: 'middle'}
  });
}

var chart = echarts.init(document.getElementById('main'), null, {renderer: 'canvas'});
chart.setOption({
  animation: false,
  backgroundColor: '#fff',
  title: {
    text: shotTitle, left: 294, top: -1, textAlign: 'center',
    textStyle: {fontSize: 22, fontWeight: 'bold', color: '#000', fontFamily: FONT}
  },
  grid: grids,
  xAxis: xAxes,
  yAxis: yAxes,
  series: series,
  graphic: graphics
});
</script>
</body>
</html>
